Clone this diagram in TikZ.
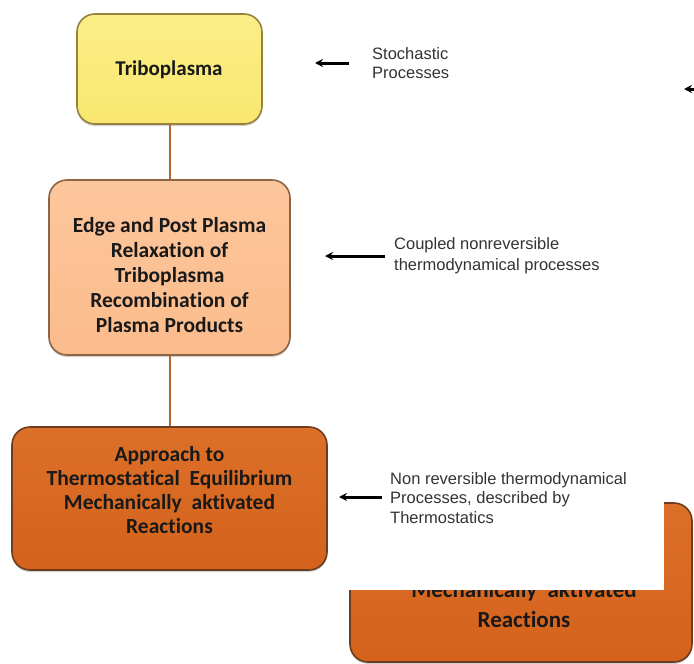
\documentclass[tikz,border=0pt]{standalone}
\usepackage{fontspec}
\setmainfont{Liberation Sans}
\newfontfamily\boxfont[Ligatures=NoCommon]{Carlito}
\usetikzlibrary{shadows,arrows.meta}
\definecolor{tyellow}{RGB}{248,231,112}
\definecolor{tyellowt}{RGB}{251,238,135}
\definecolor{tyellowd}{RGB}{150,130,60}
\definecolor{tpeach}{RGB}{251,188,140}
\definecolor{tpeacht}{RGB}{252,198,156}
\definecolor{tpeachd}{RGB}{140,100,70}
\definecolor{torange}{RGB}{212,98,28}
\definecolor{toranget}{RGB}{220,112,40}
\definecolor{toranged}{RGB}{110,60,30}
\definecolor{tlink}{RGB}{180,100,48}
\tikzset{
  stagebox/.style={rounded corners=18pt, line width=1.6pt,
    inner sep=0pt, drop shadow={shadow xshift=0pt, shadow yshift=-2pt, opacity=0.35}},
  boxtext/.style={align=center, inner sep=0pt, text=black!90,
    font=\boxfont\bfseries\fontsize{21.5}{25}\selectfont},
  note/.style={align=left, anchor=west, inner sep=0pt, text=black!80,
    font=\fontsize{16.5}{19.5}\selectfont},
  link/.style={draw=tlink, line width=2pt},
  pointer/.style={draw=black, line width=3pt, -{Stealth[length=8pt,width=8pt]}}
}
\begin{document}
\begin{tikzpicture}[x=1pt,y=-1pt]
\useasboundingbox[fill=white] (0,0) rectangle (694,664);
% bottom right partial box
\node[stagebox, top color=toranget, bottom color=torange, draw=toranged, minimum width=342pt, minimum height=159pt] (b4) at (521,582.5) {};
\node[boxtext, font=\boxfont\bfseries\fontsize{23}{30}\selectfont] (t4) at (524,605)
  {Mechanically\hspace{5pt} aktivated\\Reactions};
\fill[white] (334,458) rectangle (664,590);
% main boxes
\node[stagebox, top color=tyellowt, bottom color=tyellow, draw=tyellowd, minimum width=185pt, minimum height=110pt] (b1) at (169.5,69) {};
\node[boxtext, font=\boxfont\bfseries\fontsize{21}{25}\selectfont] (t1) at (169,70) {Triboplasma};
\node[stagebox, top color=tpeacht, bottom color=tpeach, draw=tpeachd, minimum width=241pt, minimum height=175pt] (b2) at (169.5,267.5) {};
\node[boxtext] (t2) at (169.5,275)
  {Edge and Post Plasma\\Relaxation of\\Triboplasma\\Recombination of\\Plasma Products};
\node[stagebox, top color=toranget, bottom color=torange, draw=toranged, minimum width=315pt, minimum height=143pt] (b3) at (169.5,498.5) {};
\node[boxtext, font=\boxfont\bfseries\fontsize{21.5}{24.3}\selectfont] (t3) at (169.5,490)
  {Approach to\\Thermostatical\hspace{5pt} Equilibrium\\Mechanically\hspace{5pt} aktivated\\Reactions};
\draw[link] (b1.south) -- (b2.north);
\draw[link] (b2.south) -- (b3.north);
% notes
\node[note] (n1) at (372,63) {Stochastic\\Processes};
\node[note, font=\fontsize{16.5}{21}\selectfont] (n2) at (394,256) {Coupled nonreversible\\thermodynamical processes};
\node[note] (n3) at (390,498) {Non reversible thermodynamical\\Processes, described by\\Thermostatics};
\coordinate (a1s) at (349,63); \coordinate (a1e) at (315,63);
\coordinate (a2s) at (385,256); \coordinate (a2e) at (325,256);
\coordinate (a3s) at (382,497); \coordinate (a3e) at (339,497);
\coordinate (a4s) at (698,89); \coordinate (a4e) at (684,89);
\draw[pointer] (a1s) -- (a1e);
\draw[pointer] (a2s) -- (a2e);
\draw[pointer] (a3s) -- (a3e);
\draw[pointer] (a4s) -- (a4e);
\end{tikzpicture}
\end{document}
